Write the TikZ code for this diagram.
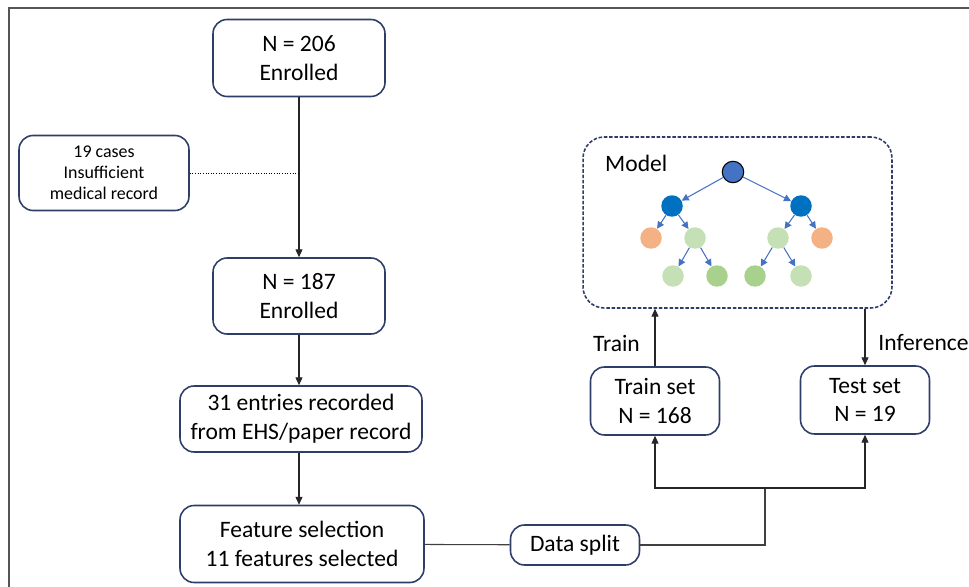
\documentclass[tikz,border=0pt]{standalone}
\usepackage{fontspec}
\setmainfont{Carlito}
\usetikzlibrary{arrows.meta,positioning}
\definecolor{flownavy}{RGB}{47,62,105}
\definecolor{treeroot}{RGB}{68,114,196}
\definecolor{treemid}{RGB}{0,112,192}
\definecolor{treeorange}{RGB}{244,177,131}
\definecolor{treepale}{RGB}{197,224,180}
\definecolor{treegreen}{RGB}{169,209,142}
\definecolor{framegray}{RGB}{85,85,85}

\begin{document}
\begin{tikzpicture}[x=0.02cm,y=-0.02cm,
  every node/.style={font=\fontsize{13.4}{16.4}\selectfont,text=black},
  box/.style={draw=flownavy,line width=0.9pt,rounded corners=8pt,align=center,inner sep=0pt},
  smallbox/.style={box,font=\fontsize{10.2}{11.9}\selectfont},
  flow/.style={-{Triangle[length=4.5pt,width=4pt]},line width=0.6pt,black!85},
  link/.style={line width=0.6pt,black!75},
  leaf/.style={circle,minimum size=0.43cm,inner sep=0pt},
  branch/.style={-{Triangle[length=4pt,width=4pt]},line width=0.6pt,treeroot}]

\useasboundingbox (0,0) rectangle (969,587);
\draw[framegray,line width=1pt] (9,587) -- (9,8) -- (969,8);

% left column
\node[box,minimum width=3.44cm,minimum height=1.54cm] (enrol206) at (299,58) {N = 206\\Enrolled};
\node[smallbox,minimum width=3.4cm,minimum height=1.5cm] (excluded) at (104,173) {19 cases\\Insufficient\\medical record};
\node[box,minimum width=3.44cm,minimum height=1.52cm] (enrol187) at (299,296) {N = 187\\Enrolled};
\node[box,minimum width=4.84cm,minimum height=1.32cm] (entries) at (301,419) {31 entries recorded\\from EHS/paper record};
\node[box,minimum width=4.88cm,minimum height=1.54cm] (features) at (302,544) {Feature selection\\11 features selected};

\draw[flow] (enrol206) -- (enrol187);
\draw[densely dotted,line width=0.5pt] (excluded) -- (excluded -| enrol206);
\draw[flow] (enrol187.south) -- (enrol187.south |- entries.north);
\draw[flow] (entries.south -| enrol187) -- (enrol187 |- features.north);

% split
\node[box,minimum width=2.58cm,minimum height=0.8cm] (split) at (575,545) {Data split};
\node[box,minimum width=2.58cm,minimum height=1.36cm] (trainset) at (655,401) {Train set\\N = 168};
\node[box,minimum width=2.58cm,minimum height=1.36cm] (testset) at (865,400) {Test set\\N = 19};
\coordinate (fork) at (765,488);

\draw[link] (features) -- (split);
\draw[link] (split) -| (fork);
\draw[flow] (fork) -| (trainset);
\draw[flow] (fork) -| (testset);

% model
\node[draw=flownavy,dashed,line width=0.9pt,dash pattern=on 2pt off 1pt,rounded corners=12pt,minimum width=6.18cm,minimum height=3.42cm] (model) at (737.5,222.5) {};
\node[anchor=west] (modeltitle) at (599,163) {Model};

\draw[flow] (trainset) -- (trainset |- model.south) node[pos=0.4,left=5pt] {Train};
\draw[flow] (model.south -| testset) -- (testset) node[pos=0.6,right=4pt] {Inference};

% tree
\node[leaf,fill=treeroot,draw=black,line width=0.6pt] (root) at (733,172) {};
\node[leaf,fill=treemid] (midL) at (672,206) {};
\node[leaf,fill=treemid] (midR) at (801,206) {};
\node[leaf,fill=treeorange] (endL) at (651,238) {};
\node[leaf,fill=treepale] (splitL) at (695,238) {};
\node[leaf,fill=treepale] (splitR) at (778,238) {};
\node[leaf,fill=treeorange] (endR) at (822,238) {};
\node[leaf,fill=treepale] (lowA) at (673,276) {};
\node[leaf,fill=treegreen] (lowB) at (717,276) {};
\node[leaf,fill=treegreen] (lowC) at (755,276) {};
\node[leaf,fill=treepale] (lowD) at (801,276) {};

\foreach \a/\b in {root/midL,root/midR,midL/endL,midL/splitL,midR/splitR,midR/endR,splitL/lowA,splitL/lowB,splitR/lowC,splitR/lowD}
  \draw[branch] (\a) -- (\b);
\end{tikzpicture}
\end{document}
